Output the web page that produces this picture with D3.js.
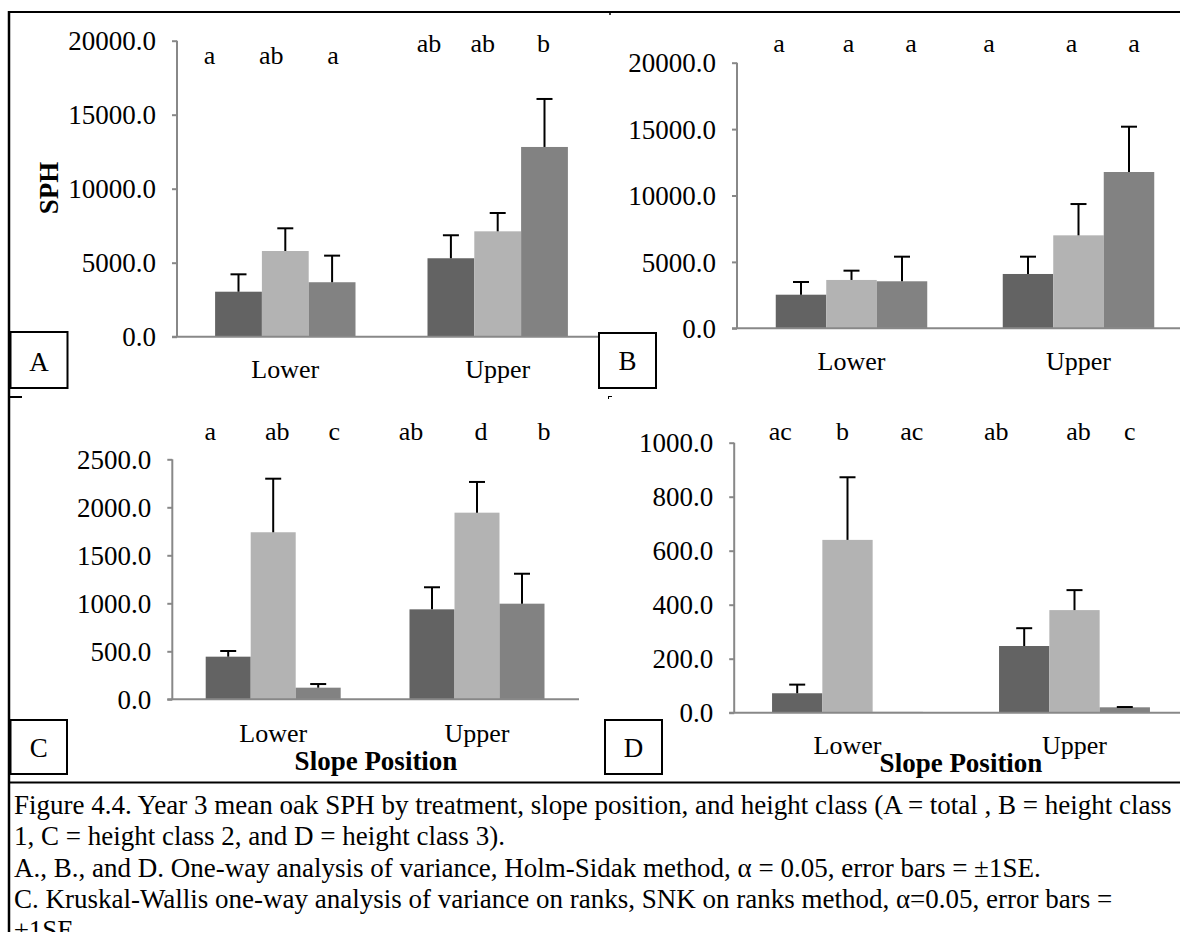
<!DOCTYPE html>
<html>
<head>
<meta charset="utf-8">
<script src="https://cdn.jsdelivr.net/npm/d3@7"></script>
<style>
  body { margin: 0; background: #fff; }
  text { font-family: "Liberation Serif", "Times New Roman", serif; fill: #000; }
</style>
</head>
<body>
<svg id="fig" width="1180" height="932"></svg>
<script>
// slope positions (x categories) and the three treatments (bar series)
const slopes = ['Lower', 'Upper'];
const treatments = ['T1', 'T2', 'T3'];
const barColors = ['#636363', '#b3b3b3', '#828282'];

// mean SPH per slope position (rows) and treatment (columns)
const meanA = [[3040, 5790, 3680], [5300, 7120, 12820]];
const seA = [[1175, 1534, 1797], [1554, 1237, 3243]];
const meanB = [[2530, 3640, 3540], [4090, 7000, 11770]];
const seB = [[956, 700, 1853], [1303, 2357, 3411]];
const meanC = [[444, 1740, 121], [937, 1944, 996]];
const seC = [[59, 558, 38], [230, 320, 312]];
const meanD = [[72, 640, 3], [247, 380, 20]];
const seD = [[32, 232, 0], [66, 74, 1]];

// significance letters
const lettersA = [['a', 'ab', 'a'], ['ab', 'ab', 'b']];
const lettersB = [['a', 'a', 'a'], ['a', 'a', 'a']];
const lettersC = [['a', 'ab', 'c'], ['ab', 'd', 'b']];
const lettersD = [['ac', 'b', 'ac'], ['ab', 'ab', 'c']];

// y tick values
const ticksAB = [0, 5000, 10000, 15000, 20000];
const ticksC = [0, 500, 1000, 1500, 2000, 2500];
const ticksD = [0, 200, 400, 600, 800, 1000];

const captionLines = [
  'Figure 4.4. Year 3 mean oak SPH by treatment, slope position, and height class (A = total , B = height class',
  '1, C = height class 2, and D = height class 3).',
  'A., B., and D. One-way analysis of variance, Holm-Sidak method, \u03b1 = 0.05, error bars = \u00b11SE.',
  'C. Kruskal-Wallis one-way analysis of variance on ranks, SNK on ranks method, \u03b1=0.05, error bars =',
  '\u00b11SE.'
];

// panel layout (pixels)
const panels = [
  { id: 'A', mean: meanA, se: seA, letters: lettersA, ticks: ticksAB,
    axisX: 177, axisEnd: 600, y0: 336.7, y1: 40.7, centers: [285.3, 497.7], barW: 46.8,
    nudge: [[-29, -14, 1], [-22, -15, -1]], letterY: [64, 52], catY: 378,
    box: [10.5, 332, 57, 56], boxY: 371, yTitle: true },
  { id: 'B', mean: meanB, se: seB, letters: lettersB, ticks: ticksAB,
    axisX: 737, axisEnd: 1180, y0: 328.3, y1: 62.7, centers: [851.5, 1078.5], barW: 50.5,
    nudge: [[-22, -3, 9], [-39, -7, 5]], letterY: [52, 52], catY: 370,
    box: [599, 333, 57, 55], boxY: 370 },
  { id: 'C', mean: meanC, se: seC, letters: lettersC, ticks: ticksC,
    axisX: 172.3, axisEnd: 579, y0: 699.3, y1: 459.3, centers: [273.2, 477], barW: 45,
    nudge: [[-18, 4, 16], [-21, 4, 22]], letterY: [440, 440], catY: 742,
    box: [10.5, 720, 56.5, 54], boxY: 757, xTitle: [376, 770] },
  { id: 'D', mean: meanD, se: seD, letters: lettersD, ticks: ticksD,
    axisX: 734.2, axisEnd: 1180, y0: 712.7, y1: 442.7, centers: [847.5, 1074.5], barW: 50.3,
    nudge: [[-17, -5, 14], [-28, 4, 5]], letterY: [440, 440], catY: 754,
    box: [605, 720, 57, 54], boxY: 757, xTitle: [961, 772] }
];

const svg = d3.select('#fig');
const fmt = d3.format('.1f');
const FS = 27;      // tick labels, caption, titles
const FS_LBL = 26;  // category labels and letters

// outer frame, separator and the little cell-corner stubs
const frame = svg.append('g').attr('stroke', '#000').attr('fill', 'none');
frame.append('line').attr('x1', 9).attr('x2', 9).attr('y1', 11).attr('y2', 932).attr('stroke-width', 2.5);
frame.append('line').attr('x1', 8).attr('x2', 1180).attr('y1', 12).attr('y2', 12).attr('stroke-width', 2);
frame.append('line').attr('x1', 8).attr('x2', 1180).attr('y1', 782.5).attr('y2', 782.5).attr('stroke-width', 2);
frame.append('line').attr('x1', 8).attr('x2', 22).attr('y1', 397).attr('y2', 397).attr('stroke-width', 2);
frame.append('path').attr('d', 'M608,396.5H612M608.5,396V399').attr('stroke-width', 1);
frame.append('path').attr('d', 'M610,12V15').attr('stroke-width', 1.5);

panels.forEach(p => {
  const g = svg.append('g');
  const step = p.centers[1] - p.centers[0];

  const x0 = d3.scaleBand()
    .domain(slopes)
    .range([p.centers[0] - step / 2, p.centers[1] + step / 2]);
  const x1 = d3.scaleBand()
    .domain(treatments)
    .range([-1.5 * p.barW, 1.5 * p.barW]);
  const y = d3.scaleLinear()
    .domain([0, d3.max(p.ticks)])
    .range([p.y0, p.y1]);

  // y axis
  const yAxis = g.append('g')
    .attr('transform', `translate(${p.axisX},0)`)
    .call(d3.axisLeft(y).tickValues(p.ticks).tickFormat(fmt).tickSize(5).tickPadding(16));
  yAxis.select('.domain').attr('stroke', '#888').attr('stroke-width', 2).attr('d', `M0,${p.y0}V${p.y1}`);
  yAxis.selectAll('.tick line').attr('stroke', '#888').attr('stroke-width', 2);
  yAxis.selectAll('.tick text')
    .attr('font-size', FS).attr('fill', '#000')
    .attr('dy', '0.34em');

  // bars
  const rows = slopes.map((s, i) => treatments.map((t, j) => ({
    slope: s, treat: t, j, mean: p.mean[i][j], se: p.se[i][j], letter: p.letters[i][j],
    nudge: p.nudge[i][j], ly: p.letterY[i]
  }))).flat();

  g.selectAll('rect.bar')
    .data(rows)
    .join('rect')
    .attr('class', 'bar')
    .attr('x', d => x0(d.slope) + x0.bandwidth() / 2 + x1(d.treat))
    .attr('width', x1.bandwidth())
    .attr('y', d => y(d.mean))
    .attr('height', d => p.y0 - y(d.mean))
    .attr('fill', d => barColors[d.j]);

  // x axis line at zero
  g.append('line')
    .attr('x1', p.axisX - 5).attr('x2', p.axisEnd)
    .attr('y1', y(0)).attr('y2', y(0))
    .attr('stroke', '#888').attr('stroke-width', 2);

  // error bars (+1 SE)
  const cx = d => x0(d.slope) + x0.bandwidth() / 2 + x1(d.treat) + x1.bandwidth() / 2;
  const eb = g.selectAll('g.err')
    .data(rows.filter(d => d.se > 0))
    .join('g')
    .attr('class', 'err')
    .attr('stroke', '#000')
    .attr('stroke-width', 2);
  eb.append('line')
    .attr('x1', cx).attr('x2', cx)
    .attr('y1', d => y(d.mean)).attr('y2', d => y(d.mean + d.se));
  eb.append('line')
    .attr('x1', d => cx(d) - 8).attr('x2', d => cx(d) + 8)
    .attr('y1', d => y(d.mean + d.se)).attr('y2', d => y(d.mean + d.se));

  // significance letters
  g.selectAll('text.sig')
    .data(rows)
    .join('text')
    .attr('class', 'sig')
    .attr('x', d => cx(d) + d.nudge)
    .attr('y', d => d.ly)
    .attr('text-anchor', 'middle')
    .attr('font-size', FS_LBL)
    .text(d => d.letter);

  // category labels
  g.selectAll('text.cat')
    .data(slopes)
    .join('text')
    .attr('class', 'cat')
    .attr('x', d => x0(d) + x0.bandwidth() / 2)
    .attr('y', p.catY)
    .attr('text-anchor', 'middle')
    .attr('font-size', FS_LBL)
    .text(d => d);

  // panel letter box
  const [bx, by, bw, bh] = p.box;
  g.append('rect')
    .attr('x', bx).attr('y', by).attr('width', bw).attr('height', bh)
    .attr('fill', '#fff').attr('stroke', '#000').attr('stroke-width', 2);
  g.append('text')
    .attr('x', bx + bw / 2).attr('y', p.boxY)
    .attr('text-anchor', 'middle')
    .attr('font-size', FS)
    .text(p.id);

  if (p.yTitle) {
    g.append('text')
      .attr('transform', `translate(58,188) rotate(-90)`)
      .attr('text-anchor', 'middle')
      .attr('font-size', FS)
      .attr('font-weight', 'bold')
      .text('SPH');
  }
  if (p.xTitle) {
    g.append('text')
      .attr('x', p.xTitle[0]).attr('y', p.xTitle[1])
      .attr('text-anchor', 'middle')
      .attr('font-size', FS)
      .attr('font-weight', 'bold')
      .text('Slope Position');
  }
});

// caption
svg.append('g')
  .selectAll('text')
  .data(captionLines)
  .join('text')
  .attr('x', 14)
  .attr('y', (d, i) => 814 + i * 31.3)
  .attr('font-size', FS)
  .text(d => d);
</script>
</body>
</html>
